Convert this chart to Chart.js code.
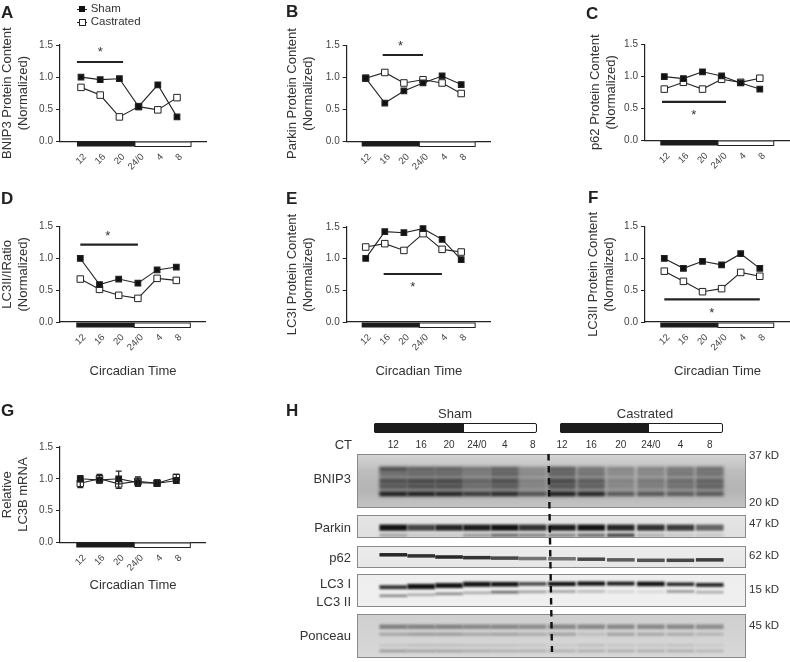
<!DOCTYPE html>
<html>
<head>
<meta charset="utf-8">
<title>Circadian autophagy markers</title>
<script src="https://cdn.jsdelivr.net/npm/chart.js@4"></script>
<style>
    html, body { margin: 0; padding: 0; background: #fff; }
    #page { position: relative; width: 790px; height: 662px; overflow: hidden; font-family: "Liberation Sans", Arial, sans-serif; color: #333; }
    #page canvas { position: absolute; }
    .txt { position: absolute; white-space: nowrap; line-height: 1; }
    .letter { font-size: 17px; font-weight: bold; color: #222; }
    .mark { position: absolute; box-sizing: border-box; }
</style>
</head>
<body>
<div id="page"></div>
<script>
// circadian time, shared by every panel
const circadianLabels = ['12', '16', '20', '24/0', '4', '8'];
const phaseBar = [-0.21, 2.81, 5.73];

const bnip3Sham = [1.0, 0.96, 0.975, 0.54, 0.88, 0.38];
const bnip3Castrated = [0.84, 0.72, 0.38, 0.54, 0.49, 0.68];
const parkinSham = [0.99, 0.6, 0.79, 0.915, 1.025, 0.89];
const parkinCastrated = [0.99, 1.08, 0.915, 0.965, 0.915, 0.75];
const p62Sham = [0.995, 0.964, 1.07, 1.005, 0.896, 0.8];
const p62Castrated = [0.8, 0.906, 0.8, 0.953, 0.906, 0.97];
const ratioSham = [1.0, 0.59, 0.676, 0.61, 0.82, 0.865];
const ratioCastrated = [0.676, 0.514, 0.42, 0.372, 0.687, 0.655];
const lc3iSham = [1.005, 1.426, 1.41, 1.474, 1.305, 0.984];
const lc3iCastrated = [1.184, 1.237, 1.13, 1.395, 1.147, 1.105];
const lc3iiSham = [1.0, 0.845, 0.955, 0.9, 1.075, 0.845];
const lc3iiCastrated = [0.8, 0.64, 0.477, 0.525, 0.78, 0.72];
const mrnaSham = [1.0, 0.98, 1.0, 0.94, 0.93, 0.97];
const mrnaCastrated = [0.93, 1.0, 0.92, 0.96, 0.93, 1.02];

// error bars, only panel G has them
const mrnaShamLow = [0.95, 0.93, 0.92, 0.88, 0.88, 0.93];
const mrnaShamHigh = [1.05, 1.07, 1.12, 1.0, 0.98, 1.02];
const mrnaCastratedLow = [0.86, 0.95, 0.85, 0.9, 0.88, 0.97];
const mrnaCastratedHigh = [1.0, 1.05, 0.98, 1.03, 0.98, 1.07];

// significance bars: from, to, height / star: x, y
const bnip3Sig = [-0.21, 2.19, 1.235];
const bnip3Star = [1.0, 1.4];
const parkinSig = [0.89, 3.0, 1.354];
const parkinStar = [1.83, 1.5];
const p62Sig = [-0.12, 3.23, 0.6];
const p62Star = [1.54, 0.41];
const ratioSig = [0, 3.0, 1.217];
const ratioStar = [1.43, 1.36];
const lc3iSig = [0.94, 3.99, 0.758];
const lc3iStar = [2.46, 0.568];
const lc3iiSig = [0, 5, 0.357];
const lc3iiStar = [2.48, 0.152];

// blot lanes
const laneLabels = ['12', '16', '20', '24/0', '4', '8', '12', '16', '20', '24/0', '4', '8'];
const laneX = [0, 1, 2, 3, 4, 5, 6.05, 7.1, 8.16, 9.24, 10.3, 11.35];

const bnip3Smear = [0.22, 0.22, 0.22, 0.18, 0.22, 0.12, 0.22, 0.18, 0.1, 0.12, 0.15, 0.18];
const bnip3Top = [0.55, 0.42, 0.42, 0.3, 0.42, 0.2, 0.45, 0.3, 0.25, 0.25, 0.3, 0.35];
const bnip3Upper = [0.3, 0.35, 0.35, 0.25, 0.4, 0.2, 0.4, 0.3, 0.2, 0.2, 0.3, 0.3];
const bnip3Middle = [0.55, 0.6, 0.6, 0.42, 0.55, 0.25, 0.6, 0.48, 0.25, 0.3, 0.38, 0.42];
const bnip3Lower = [0.45, 0.5, 0.5, 0.32, 0.42, 0.2, 0.48, 0.42, 0.2, 0.25, 0.32, 0.4];
const bnip3Main = [0.95, 0.95, 0.9, 0.75, 0.85, 0.6, 0.95, 0.9, 0.55, 0.55, 0.5, 0.5];
const parkinMain = [1, 0.75, 0.9, 0.95, 1, 0.85, 0.95, 1, 0.9, 0.85, 0.8, 0.6];
const parkinLower = [0.25, 0.1, 0.1, 0.3, 0.5, 0.4, 0.4, 0.5, 0.7, 0.2, 0.1, 0.1];
const p62Band = [0.9, 0.85, 0.9, 0.85, 0.75, 0.55, 0.55, 0.75, 0.65, 0.7, 0.75, 0.8];
const p62Migration = [40, 45, 50, 53, 55, 57, 58, 60, 63, 65, 65, 63];
const lc3iBand = [0.85, 1, 1, 1, 1, 0.75, 1, 1, 0.95, 1, 0.9, 0.9];
const lc3iMigration = [40, 38, 35, 31, 31, 30, 30, 29, 29, 30, 31, 33];
const lc3iThickness = [10, 14, 13, 13, 12, 9, 11, 11, 10, 12, 9, 10];
const lc3iiBand = [0.45, 0.3, 0.45, 0.3, 0.6, 0.35, 0.35, 0.25, 0.12, 0.1, 0.4, 0.3];
const lc3iiMigration = [66, 63, 60, 57, 55, 54, 53, 53, 54, 54, 53, 55];
const ponceauTop = [0.42, 0.4, 0.4, 0.38, 0.38, 0.35, 0.38, 0.38, 0.38, 0.38, 0.38, 0.35];
const ponceauSecond = [0.22, 0.28, 0.28, 0.22, 0.25, 0.2, 0.25, 0.1, 0.25, 0.22, 0.2, 0.15];
const ponceauThird = [0.08, 0.12, 0.12, 0.1, 0.1, 0.08, 0.06, 0.12, 0.08, 0.08, 0.1, 0.06];
const ponceauFourth = [0.28, 0.25, 0.25, 0.22, 0.2, 0.18, 0.18, 0.2, 0.2, 0.2, 0.2, 0.15];

const FONT = '"Liberation Sans", Arial, sans-serif';
const page = document.getElementById('page');

function addText(text, x, y, size, align, extra) {
    const el = document.createElement('div');
    el.className = 'txt ' + (extra || '');
    el.textContent = text;
    el.style.fontSize = size ? size + 'px' : '';
    el.style.top = y + 'px';
    if (align === 'right') {
        el.style.right = (790 - x) + 'px';
    } else if (align === 'center') {
        el.style.left = x + 'px';
        el.style.transform = 'translateX(-50%)';
    } else {
        el.style.left = x + 'px';
    }
    page.appendChild(el);
}

function addBox(x, y, w, h, css) {
    const el = document.createElement('div');
    el.className = 'mark';
    el.style.cssText += `left:${x}px;top:${y}px;width:${w}px;height:${h}px;${css}`;
    page.appendChild(el);
}

function addCanvas(x, y, w, h) {
    const canvas = document.createElement('canvas');
    canvas.width = w;
    canvas.height = h;
    canvas.style.left = x + 'px';
    canvas.style.top = y + 'px';
    canvas.style.width = w + 'px';
    canvas.style.height = h + 'px';
    page.appendChild(canvas);
    return canvas;
}

// the dark / light phase strip under the x axis, plus star and error bars
const panelExtras = {
    id: 'panelExtras',
    afterDatasetsDraw(chart, args, opts) {
        const { ctx, scales } = chart;
        const y0 = Math.round(scales.y.getPixelForValue(0));
        const xa = scales.x.getPixelForValue(phaseBar[0]);
        const xb = scales.x.getPixelForValue(phaseBar[1]);
        const xc = scales.x.getPixelForValue(phaseBar[2]);
        ctx.save();
        ctx.fillStyle = '#1c1c1c';
        ctx.fillRect(xa, y0 + 0.5, xb - xa, 5);
        ctx.fillStyle = '#fff';
        ctx.strokeStyle = '#222';
        ctx.lineWidth = 1;
        ctx.fillRect(xb, y0 + 0.5, xc - xb, 5);
        ctx.strokeRect(xb, y0 + 1, xc - xb, 4.5);
        if (opts.star) {
            ctx.fillStyle = '#333';
            ctx.font = `13px ${FONT}`;
            ctx.textAlign = 'center';
            ctx.textBaseline = 'middle';
            ctx.fillText('*', scales.x.getPixelForValue(opts.star[0]), scales.y.getPixelForValue(opts.star[1]) + 1);
        }
        (opts.errors || []).forEach(err => {
            ctx.strokeStyle = '#222';
            ctx.lineWidth = 1.2;
            err.low.forEach((low, i) => {
                const x = scales.x.getPixelForValue(i);
                const a = scales.y.getPixelForValue(low);
                const b = scales.y.getPixelForValue(err.high[i]);
                ctx.beginPath();
                ctx.moveTo(x, a);
                ctx.lineTo(x, b);
                ctx.moveTo(x - 3, a);
                ctx.lineTo(x + 3, a);
                ctx.moveTo(x - 3, b);
                ctx.lineTo(x + 3, b);
                ctx.stroke();
            });
        });
        ctx.restore();
    },
};

function makePanel(p) {
    // whole-pixel canvas so text and lines stay sharp
    const canvasLeft = Math.floor(p.axis - 60);
    const canvasTop = Math.floor(p.top - 30);
    const canvasW = Math.ceil(p.right - canvasLeft);
    const canvasH = Math.ceil(p.bottom - canvasTop + 60);
    const axisWidth = p.axis - canvasLeft;
    const padTop = p.top - canvasTop;
    const xHeight = canvasH - (p.bottom - canvasTop);
    const canvas = addCanvas(canvasLeft, canvasTop, canvasW, canvasH);
    const toPoints = values => values.map((v, i) => ({ x: i, y: v }));
    const datasets = [
        {
            label: 'Sham',
            data: toPoints(p.sham),
            borderColor: '#222',
            borderWidth: 1.1,
            backgroundColor: '#111',
            pointStyle: 'rect',
            pointRadius: 4,
            showLine: true,
        },
        {
            label: 'Castrated',
            data: toPoints(p.castrated),
            borderColor: '#222',
            borderWidth: 1.1,
            pointBorderWidth: 1,
            backgroundColor: '#fff',
            pointStyle: 'rect',
            pointRadius: 4.6,
            showLine: true,
        },
    ];
    if (p.sig) {
        datasets.push({
            label: 'p < 0.05',
            data: [{ x: p.sig[0], y: p.sig[2] }, { x: p.sig[1], y: p.sig[2] }],
            borderColor: '#222',
            borderWidth: 2.2,
            pointRadius: 0,
            showLine: true,
        });
    }
    new Chart(canvas, {
        type: 'scatter',
        data: { datasets },
        plugins: [panelExtras],
        options: {
            responsive: false,
            animation: false,
            clip: false,
            layout: { autoPadding: false, padding: { top: padTop } },
            plugins: {
                legend: { display: false },
                tooltip: { enabled: false },
                panelExtras: { star: p.star, errors: p.errors },
            },
            scales: {
                x: {
                    type: 'linear',
                    min: -(p.first - p.axis) / p.step,
                    max: (canvasLeft + canvasW - p.first) / p.step,
                    afterBuildTicks: scale => {
                        scale.ticks = circadianLabels.map((l, i) => ({ value: i }));
                    },
                    afterFit: scale => {
                        scale.height = xHeight;
                        scale.paddingLeft = 0;
                        scale.paddingRight = 0;
                    },
                    border: { color: '#222', width: 1.2 },
                    grid: { display: true, drawOnChartArea: false, drawTicks: false },
                    ticks: {
                        autoSkip: false,
                        minRotation: 45,
                        maxRotation: 45,
                        padding: 10,
                        labelOffset: 4,
                        color: '#444',
                        font: { family: FONT, size: 9.5 },
                        callback: (value, index) => circadianLabels[index],
                    },
                    title: {
                        display: !!p.drop,
                        text: 'Circadian Time',
                        color: '#333',
                        font: { family: FONT, size: 13 },
                        padding: { top: 0, bottom: xHeight - (p.drop || 0) - 8 },
                    },
                },
                y: {
                    min: 0,
                    max: 1.5,
                    afterFit: scale => {
                        scale.width = axisWidth;
                        scale.paddingTop = 0;
                        scale.paddingBottom = 0;
                    },
                    border: { color: '#222', width: 1.2 },
                    grid: { display: true, drawOnChartArea: false, drawTicks: true, tickLength: 4, color: '#222' },
                    ticks: {
                        stepSize: 0.5,
                        padding: 3,
                        color: '#444',
                        font: { family: FONT, size: 10 },
                        callback: value => value.toFixed(1),
                    },
                    title: {
                        display: true,
                        text: p.title,
                        color: '#333',
                        font: { family: FONT, size: 13, lineHeight: 1.27 },
                        padding: { top: axisWidth - p.titleGap - 8, bottom: 0 },
                    },
                },
            },
        },
    });
}

makePanel({ axis: 60, right: 207, top: 45, bottom: 141.3, first: 81, step: 19.2, titleGap: 53, title: ['BNIP3 Protein Content', '(Normalized)'], sham: bnip3Sham, castrated: bnip3Castrated, sig: bnip3Sig, star: bnip3Star });
makePanel({ axis: 346.7, right: 490.7, top: 45.7, bottom: 141.3, first: 365.7, step: 19.1, titleGap: 55, title: ['Parkin Protein Content', '(Normalized)'], sham: parkinSham, castrated: parkinCastrated, sig: parkinSig, star: parkinStar });
makePanel({ axis: 645, right: 790, top: 44.3, bottom: 140.3, first: 664.3, step: 19.1, titleGap: 50, title: ['p62 Protein Content', '(Normalized)'], sham: p62Sham, castrated: p62Castrated, sig: p62Sig, star: p62Star });
makePanel({ axis: 60, right: 205.7, top: 226.7, bottom: 322, first: 80.3, step: 19.2, titleGap: 53, drop: 49.7, title: ['LC3II/IRatio', '(Normalized)'], sham: ratioSham, castrated: ratioCastrated, sig: ratioSig, star: ratioStar });
makePanel({ axis: 346.7, right: 490.7, top: 227, bottom: 322, first: 365.7, step: 19.1, titleGap: 55, drop: 49.7, title: ['LC3I Protein Content', '(Normalized)'], sham: lc3iSham, castrated: lc3iCastrated, sig: lc3iSig, star: lc3iStar });
makePanel({ axis: 645, right: 790, top: 226.7, bottom: 322, first: 664.3, step: 19.1, titleGap: 52, drop: 49.7, title: ['LC3II Protein Content', '(Normalized)'], sham: lc3iiSham, castrated: lc3iiCastrated, sig: lc3iiSig, star: lc3iiStar });
makePanel({
    axis: 60, right: 205.7, top: 447, bottom: 542.3, first: 80.3, step: 19.2, titleGap: 53, drop: 42.7,
    title: ['Relative', 'LC3B mRNA'], sham: mrnaSham, castrated: mrnaCastrated,
    errors: [{ low: mrnaCastratedLow, high: mrnaCastratedHigh }, { low: mrnaShamLow, high: mrnaShamHigh }],
});

// one blot strip = one bar chart, each band a floating bar per lane
function band(center, thickness, darkness) {
    return {
        data: laneX.map((x, i) => {
            const c = Array.isArray(center) ? center[i] : center;
            const t = Array.isArray(thickness) ? thickness[i] : thickness;
            return { x, y: [c - t / 2, c + t / 2] };
        }),
        backgroundColor: darkness.map(d => `rgba(18,18,18,${d})`),
    };
}

const blotLook = {
    id: 'blotLook',
    beforeDatasetsDraw(chart, args, opts) {
        const { ctx, chartArea: a } = chart;
        const grad = ctx.createLinearGradient(0, a.top, 0, a.bottom);
        opts.colors.forEach((c, i) => grad.addColorStop(i / (opts.colors.length - 1), c));
        ctx.fillStyle = grad;
        ctx.fillRect(a.left, a.top, a.right - a.left, a.bottom - a.top);
        ctx.save();
        ctx.filter = `blur(${opts.blur}px)`;
    },
    afterDatasetsDraw(chart) {
        const { ctx, chartArea: a } = chart;
        ctx.restore();
        ctx.strokeStyle = '#8a8a8a';
        ctx.lineWidth = 1;
        ctx.strokeRect(a.left + 0.5, a.top + 0.5, a.right - a.left - 1, a.bottom - a.top - 1);
    },
};

function makeStrip(s) {
    const header = s.header ? 17 : 0;
    const canvas = addCanvas(357, s.top - header, 389, s.bottom - s.top + header);
    new Chart(canvas, {
        type: 'bar',
        data: { datasets: s.bands },
        plugins: [blotLook],
        options: {
            responsive: false,
            animation: false,
            layout: { autoPadding: false },
            datasets: { bar: { grouped: false, barThickness: 27, borderWidth: 0 } },
            plugins: {
                legend: { display: false },
                tooltip: { enabled: false },
                blotLook: { colors: s.colors, blur: s.blur },
            },
            scales: {
                x: {
                    type: 'linear',
                    position: 'top',
                    display: !!s.header,
                    min: -0.72,
                    max: 12.07,
                    afterBuildTicks: scale => {
                        scale.ticks = laneX.map(value => ({ value }));
                    },
                    afterFit: scale => {
                        scale.height = header;
                        scale.paddingLeft = 0;
                        scale.paddingRight = 0;
                    },
                    border: { display: false },
                    grid: { display: false, drawTicks: false },
                    ticks: {
                        autoSkip: false,
                        maxRotation: 0,
                        minRotation: 0,
                        padding: 3,
                        color: '#333',
                        font: { family: FONT, size: 10 },
                        callback: (value, index) => laneLabels[index],
                    },
                },
                y: { display: false, min: 0, max: 100, reverse: true },
            },
        },
    });
}

makeStrip({
    top: 454, bottom: 508, header: true, blur: 1.4, colors: ['#d6d6d6', '#bcbcbc', '#b4b4b4', '#c4c4c4'],
    bands: [band(50, 52, bnip3Smear), band(28, 7, bnip3Top), band(37, 7, bnip3Upper), band(50, 8, bnip3Middle), band(60, 8, bnip3Lower), band(74, 7, bnip3Main)],
});
makeStrip({
    top: 515, bottom: 538, blur: 0.9, colors: ['#e6e6e6', '#dedede'],
    bands: [band(55, 24, parkinMain), band(88, 14, parkinLower)],
});
makeStrip({
    top: 546, bottom: 568, blur: 0.7, colors: ['#ededed', '#e6e6e6'],
    bands: [band(p62Migration, 13, p62Band)],
});
makeStrip({
    top: 574, bottom: 607, blur: 0.9, colors: ['#eeeeee', '#f0f0f0'],
    bands: [band(lc3iMigration, lc3iThickness, lc3iBand), band(lc3iiMigration, 6, lc3iiBand)],
});
makeStrip({
    top: 614, bottom: 658, blur: 1.1, colors: ['#cfcfcf', '#d8d8d8'],
    bands: [band(29, 9, ponceauTop), band(46, 6, ponceauSecond), band(71, 4, ponceauThird), band(84, 5, ponceauFourth)],
});

// dashed divider between the two groups
const divider = document.createElementNS('http://www.w3.org/2000/svg', 'svg');
divider.setAttribute('width', '790');
divider.setAttribute('height', '662');
divider.style.cssText = 'position:absolute;left:0;top:0;';
divider.innerHTML = '<line x1="548.5" y1="454" x2="552" y2="652" stroke="#111" stroke-width="2.4" stroke-dasharray="6.5 5.5"/>';
page.appendChild(divider);

// light/dark bars above the blot
[[374, 464, 537], [560, 649, 723]].forEach(([a, b, c]) => {
    addBox(a, 423, c - a, 10, 'background:#fff;border:1.5px solid #1c1c1c;border-radius:2px;');
    addBox(a, 423, b - a, 10, 'background:#1c1c1c;border-radius:2px 0 0 2px;');
});

addText('Sham', 455, 407, 13, 'center');
addText('Castrated', 645, 407, 13, 'center');
addText('CT', 352, 438, 13, 'right');

[['BNIP3', 472], ['Parkin', 521], ['p62', 551], ['LC3 I', 577], ['LC3 II', 595], ['Ponceau', 629]].forEach(([t, y]) => {
    addText(t, 351, y, 13, 'right');
});
[['37 kD', 450], ['20 kD', 497], ['47 kD', 518], ['62 kD', 550], ['15 kD', 584], ['45 kD', 620]].forEach(([t, y]) => {
    addText(t, 749, y, 11.5);
});

// legend
addBox(77, 8.5, 10, 1, 'background:#222;');
addBox(79, 6, 6, 6, 'background:#111;');
addText('Sham', 90.7, 3, 11.5);
addBox(77, 21.5, 10, 1, 'background:#222;');
addBox(78.7, 18.5, 7, 7, 'background:#fff;border:1px solid #222;');
addText('Castrated', 90.7, 16, 11.5);

[['A', 1, 4], ['B', 286, 3], ['C', 586, 5], ['D', 1, 190], ['E', 286, 190], ['F', 588, 189], ['G', 1, 402], ['H', 286, 402]].forEach(([t, x, y]) => {
    addText(t, x, y, 17, 'left', 'letter');
});
</script>
</body>
</html>
